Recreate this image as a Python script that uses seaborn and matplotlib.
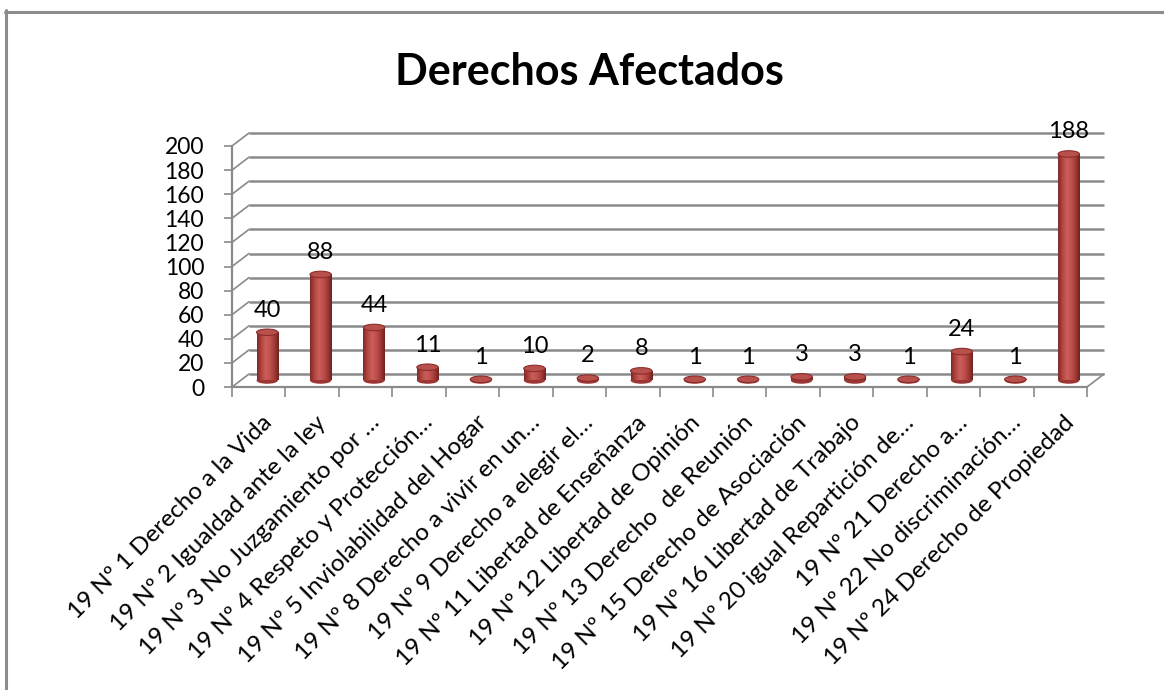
import numpy as np
import pandas as pd
import matplotlib
matplotlib.use("Agg")
import matplotlib.pyplot as plt
import matplotlib.transforms as mtransforms
from matplotlib.patches import Ellipse
from matplotlib.lines import Line2D
from matplotlib.colors import LinearSegmentedColormap
import seaborn as sns

categories = [
    "19 Nº 1 Derecho a la Vida",
    "19 Nº 2 Igualdad ante la ley",
    "19 Nº 3 No Juzgamiento por …",
    "19 Nº 4 Respeto y Protección…",
    "19 Nº 5 Inviolabilidad del Hogar",
    "19 Nº 8 Derecho a vivir en un…",
    "19 Nº 9 Derecho a elegir el…",
    "19 Nº 11 Libertad de Enseñanza",
    "19 Nº 12 Libertad de Opinión",
    "19 Nº 13 Derecho  de Reunión",
    "19 Nº 15 Derecho de Asociación",
    "19 Nº 16 Libertad de Trabajo",
    "19 Nº 20 igual Repartición de…",
    "19 Nº 21 Derecho a…",
    "19 Nº 22 No discriminación…",
    "19 Nº 24 Derecho de Propiedad",
]
values = [40, 88, 44, 11, 1, 10, 2, 8, 1, 1, 3, 3, 1, 24, 1, 188]
y_ticks = list(range(0, 201, 20))

sns.set_theme(style="white")
plt.rcParams['font.family'] = ['Lato', 'DejaVu Sans']

W, H = 1164, 690
fig = plt.figure(figsize=(W / 100, H / 100), dpi=100)
fig.patch.set_facecolor("white")

# front plane of the 3D box, in pixels
x0, x1, yb, yt = 232, 1087, 387, 146
ax = fig.add_axes([x0 / W, 1 - yb / H, (x1 - x0) / W, (yb - yt) / H])
ax.set_facecolor("none")

n = len(categories)
px_cat = (x1 - x0) / n
px_unit = (yb - yt) / 200
depth_dx, depth_dy = 17, 13
bdx, bdy = depth_dx / px_cat, depth_dy / px_unit

df = pd.DataFrame({"derecho": categories, "casos": values})
sns.barplot(data=df, x="derecho", y="casos", color="#c0504d", width=0.4,
            saturation=1, ax=ax, zorder=3)

mid = mtransforms.offset_copy(ax.transData, fig=fig, x=8.5, y=6.5, units="dots")
grid_c = "#8a8a8a"

# back wall gridlines and side connectors
ax.hlines([v + bdy for v in y_ticks], -0.5 + bdx, n - 0.5 + bdx,
          color=grid_c, lw=1.8, clip_on=False, zorder=1)
for v in y_ticks:
    ax.plot([-0.5, -0.5 + bdx], [v, v + bdy], color=grid_c, lw=1.2,
            clip_on=False, zorder=1)
ax.plot([n - 0.5, n - 0.5 + bdx], [0, bdy], color=grid_c, lw=1.2,
        clip_on=False, zorder=1)

cyl = LinearSegmentedColormap.from_list(
    "cyl", ["#7e2a28", "#b4443f", "#c95f5b", "#c0504d", "#a33a37", "#6e2220"])
grad = np.linspace(0, 1, 64).reshape(1, -1)
ew, eh = 21 / px_cat, 6.5 / px_unit
for i, p in enumerate(list(ax.patches)):
    p.set_transform(mid)
    p.set_facecolor("none")
    p.set_edgecolor("none")
    bx, bw, h = p.get_x(), p.get_width(), p.get_height()
    im = ax.imshow(grad, extent=[bx, bx + bw, 0, h], aspect="auto", cmap=cyl,
                   transform=mid, zorder=3, interpolation="bilinear")
    im.set_clip_path(p)
    cx = bx + bw / 2
    ax.add_patch(Ellipse((cx, 0), bw, eh, transform=mid, facecolor="#9b3633",
                         edgecolor="none", zorder=2))
    ax.add_patch(Ellipse((cx, h), bw, eh, transform=mid, facecolor="#b8504c",
                         edgecolor="#8a2d2b", lw=0.8, zorder=4))
    ax.annotate(f"{values[i]}", xy=(cx, h), xycoords=mid, xytext=(0, 16),
                textcoords="offset points", ha="center", va="center",
                fontsize=17, color="black")

ax.set_xlim(-0.5, n - 0.5)
ax.set_ylim(0, 200)
ax.set_xlabel("")
ax.set_ylabel("")
ax.set_yticks(y_ticks)
ax.set_yticklabels([str(v) for v in y_ticks], fontsize=16.5, color="black")
ax.tick_params(axis="y", length=6, width=1.2, color=grid_c, pad=14, left=True)
ax.set_xticks(range(n))
ax.set_xticklabels(categories, rotation=45, ha="right", rotation_mode="anchor",
                   fontsize=17.5, color="black")
ax.tick_params(axis="x", length=0, pad=2)
ax.set_xticks([i - 0.5 for i in range(n + 1)], minor=True)
ax.tick_params(axis="x", which="minor", length=7, width=1.2, color=grid_c,
               bottom=True)
shift = mtransforms.ScaledTranslation(3 / 100, -22 / 100, fig.dpi_scale_trans)
for lab in ax.get_xticklabels():
    lab.set_transform(lab.get_transform() + shift)
for side in ["top", "right"]:
    ax.spines[side].set_visible(False)
for side in ["left", "bottom"]:
    ax.spines[side].set_color(grid_c)
    ax.spines[side].set_linewidth(1.6)

fig.text(589 / W, 1 - 85 / H, "Derechos Afectados", ha="center", va="baseline",
         fontsize=31, fontweight="bold", color="black")

# outer frame (top and left edges)
fig.add_artist(Line2D([5 / W, 1], [1 - 11.5 / H] * 2, transform=fig.transFigure,
                      color="#8c8c8c", lw=2.2))
fig.add_artist(Line2D([6 / W] * 2, [0, 1 - 10 / H], transform=fig.transFigure,
                      color="#8c8c8c", lw=2.2))

fig.savefig("out.png", dpi=100, facecolor="white")
